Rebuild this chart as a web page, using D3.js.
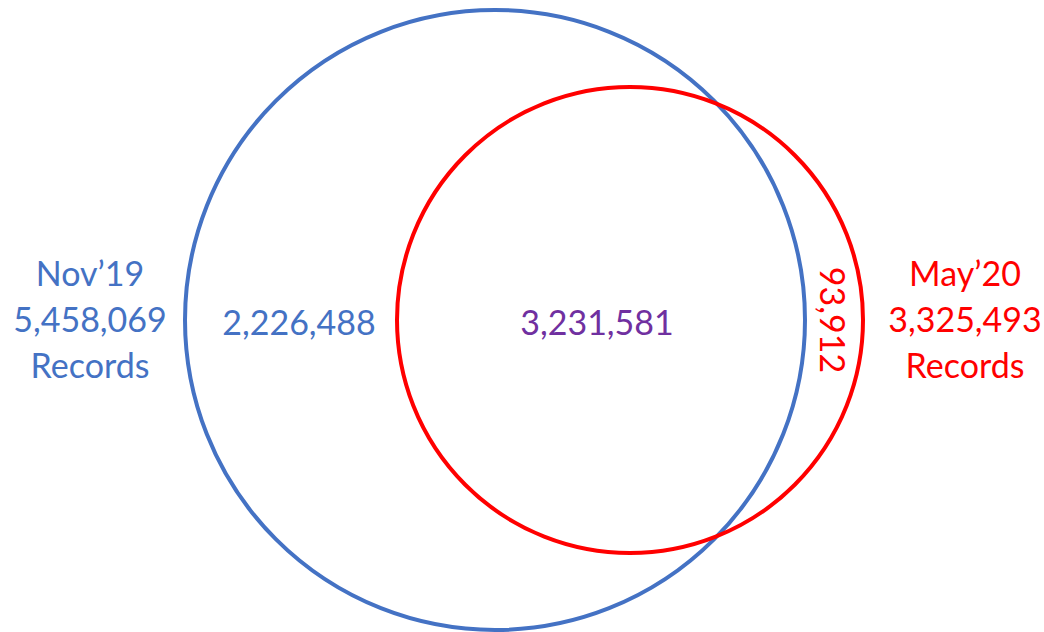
<!DOCTYPE html>
<html>
<head>
<meta charset="utf-8">
<script src="https://cdn.jsdelivr.net/npm/d3@7/dist/d3.min.js"></script>
<style>
  html, body { margin: 0; padding: 0; background: #fff; }
  svg text { font-family: Lato, "Open Sans", sans-serif; }
</style>
</head>
<body>
<svg id="venn" width="1044" height="632"></svg>
<script>
'use strict';

// data
var setNames = ['Nov\u201919', 'May\u201920'];
var setTotals = [5458069, 3325493];
var regionNames = ['Nov only', 'Both', 'May only'];
var regionValues = [2226488, 3231581, 93912];

var colors = ['#4472C4', '#FF0000'];
var overlapColor = '#7030A0';
var fmt = d3.format(',');

// layout (pixels)
var circles = [
  { cx: 495, cy: 320, r: 310 },
  { cx: 630, cy: 320, r: 233 }
];
var fontSize = 34;
var lineGap = 46;

var svg = d3.select('#venn');

svg.selectAll('circle.set')
  .data(setNames)
  .enter().append('circle')
  .attr('class', 'set')
  .attr('cx', function(d, i) { return circles[i].cx; })
  .attr('cy', function(d, i) { return circles[i].cy; })
  .attr('r', function(d, i) { return circles[i].r; })
  .style('fill', 'none')
  .style('stroke', function(d, i) { return colors[i]; })
  .style('stroke-width', 4);

// set labels outside the circles
var labelX = [90, 965];
setNames.forEach(function(name, i) {
  var lines = [name, fmt(setTotals[i]), 'Records'];
  var g = svg.append('text')
    .attr('text-anchor', 'middle')
    .style('font-size', fontSize + 'px')
    .style('fill', colors[i]);
  lines.forEach(function(t, j) {
    g.append('tspan')
      .attr('x', labelX[i])
      .attr('y', 320 + (j - 1) * lineGap + 12)
      .text(t);
  });
});

// region counts
var regionPos = [
  { x: 299, y: 335, rot: 0, color: colors[0] },
  { x: 597, y: 335, rot: 0, color: overlapColor },
  { x: 820, y: 320, rot: 90, color: colors[1] }
];
svg.selectAll('text.region')
  .data(regionValues)
  .enter().append('text')
  .attr('class', 'region')
  .attr('text-anchor', 'middle')
  .attr('transform', function(d, i) {
    var p = regionPos[i];
    return 'translate(' + p.x + ',' + p.y + ') rotate(' + p.rot + ')';
  })
  .style('font-size', fontSize + 'px')
  .style('fill', function(d, i) { return regionPos[i].color; })
  .text(function(d) { return fmt(d); });
</script>
</body>
</html>
